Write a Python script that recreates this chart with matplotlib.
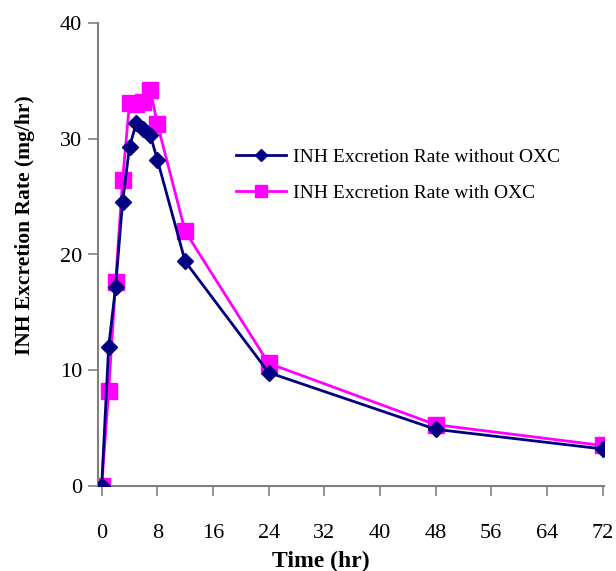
import matplotlib
matplotlib.use("Agg")
import matplotlib.pyplot as plt

# sampling times (hr)
time_hr = [0, 1, 2, 3, 4, 5, 6, 7, 8, 12, 24, 48, 72]
# INH excretion rate (mg/hr)
rate_without_oxc = [0, 12.0, 17.2, 24.5, 29.3, 31.4, 30.8, 30.3, 28.2, 19.4, 9.8, 4.9, 3.2]
rate_with_oxc = [0, 8.2, 17.6, 26.4, 33.1, 33.0, 33.2, 34.2, 31.3, 22.0, 10.6, 5.3, 3.5]

x_ticks = [0, 8, 16, 24, 32, 40, 48, 56, 64, 72]
y_ticks = [0, 10, 20, 30, 40]

plt.rcParams['font.family'] = ['Liberation Serif', 'DejaVu Serif']

fig = plt.figure(figsize=(6.16, 5.71), dpi=100)
ax = fig.add_axes([97.5 / 616, 1 - 486 / 571, (604 - 97.5) / 616, (486 - 23) / 571])

ax.plot(time_hr, rate_with_oxc, color='#FF00FF', linewidth=2, marker='s',
        markersize=11, label='INH Excretion Rate with OXC', zorder=2)
ax.plot(time_hr, rate_without_oxc, color='#000080', linewidth=2, marker='D',
        markersize=8, label='INH Excretion Rate without OXC', zorder=3)

ax.set_xlim(-0.6, 72.2)
ax.set_ylim(0, 40)
ax.set_xticks(x_ticks)
ax.set_yticks(y_ticks)
ax.spines['top'].set_visible(False)
ax.spines['right'].set_visible(False)
for s in ['left', 'bottom']:
    ax.spines[s].set_color('#808080')
    ax.spines[s].set_linewidth(1.5)
ax.tick_params(axis='both', colors='#808080', length=7, width=1.2, labelcolor='black', labelsize=16)
ax.tick_params(axis='x', pad=20)
ax.tick_params(axis='y', pad=4)

ax.set_xlabel('Time (hr)', fontsize=17, fontweight='bold')
ax.xaxis.set_label_coords(0.44, -0.14)
ax.set_ylabel('INH Excretion Rate (mg/hr)', fontsize=15.5, fontweight='bold')
ax.yaxis.set_label_coords(-0.124, 0.564)

handles, labels = ax.get_legend_handles_labels()
ax.legend(handles[::-1], labels[::-1], loc='upper left', bbox_to_anchor=(0.238, 0.768),
          frameon=False, fontsize=14, handlelength=2.6, labelspacing=0.98,
          handletextpad=0.36, markerscale=0.75)

fig.savefig('out.png', dpi=100)
